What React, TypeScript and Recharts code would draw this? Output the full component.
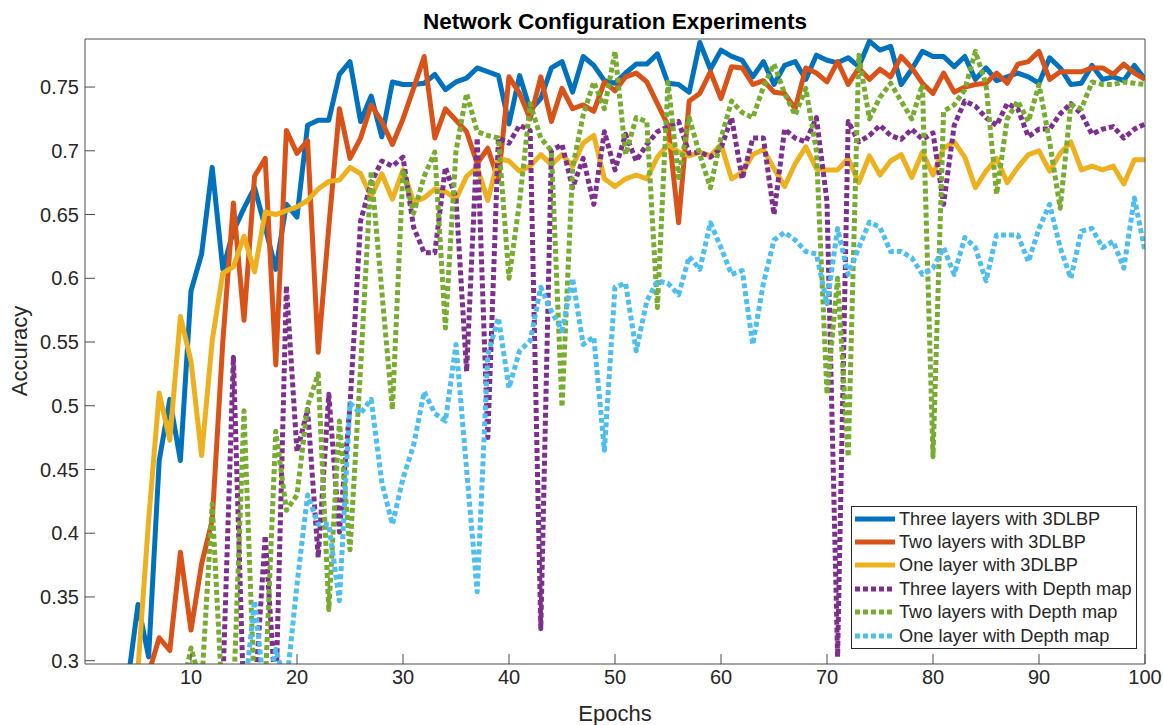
import { LineChart, Line, XAxis, YAxis, Legend } from "recharts";

const FONT = '"Liberation Sans", Arial, Helvetica, sans-serif';
const INK = "#262626";
const AXIS = "#4d4d4d";

// epochs 1..100
const epochs = Array.from({ length: 100 }, (_, i) => i + 1);
const xTicks = [10, 20, 30, 40, 50, 60, 70, 80, 90, 100];
const yTicks = [0.3, 0.35, 0.4, 0.45, 0.5, 0.55, 0.6, 0.65, 0.7, 0.75];

const threeLbp = [
  0.2, 0.22, 0.25, 0.281, 0.344, 0.303, 0.457, 0.505, 0.457, 0.59,
  0.619, 0.687, 0.607, 0.637, 0.655, 0.671, 0.64, 0.607, 0.658, 0.648,
  0.72, 0.724, 0.724, 0.76, 0.77, 0.723, 0.743, 0.711, 0.754, 0.752,
  0.752, 0.753, 0.76, 0.748, 0.754, 0.757, 0.765, 0.762, 0.759, 0.721,
  0.759, 0.732, 0.741, 0.765, 0.77, 0.746, 0.774, 0.767, 0.755, 0.753,
  0.761, 0.768, 0.768, 0.776, 0.753, 0.752, 0.746, 0.785, 0.764, 0.779,
  0.774, 0.771, 0.758, 0.77, 0.752, 0.767, 0.77, 0.756, 0.775, 0.771,
  0.769, 0.773, 0.766, 0.786, 0.779, 0.782, 0.752, 0.764, 0.778, 0.774,
  0.774, 0.766, 0.774, 0.756, 0.765, 0.755, 0.758, 0.761, 0.758, 0.753,
  0.773, 0.765, 0.752, 0.753, 0.767, 0.756, 0.758, 0.755, 0.767, 0.756,
];

const twoLbp = [
  0.19, 0.21, 0.23, 0.25, 0.27, 0.29, 0.318, 0.308, 0.385, 0.324,
  0.376, 0.41, 0.55, 0.659, 0.567, 0.68, 0.694, 0.532, 0.716, 0.698,
  0.708, 0.542, 0.64, 0.733, 0.694, 0.71, 0.736, 0.723, 0.705, 0.725,
  0.749, 0.774, 0.71, 0.733, 0.724, 0.715, 0.69, 0.702, 0.677, 0.758,
  0.745, 0.725, 0.758, 0.723, 0.749, 0.733, 0.736, 0.731, 0.754, 0.747,
  0.758, 0.761, 0.754, 0.737, 0.72, 0.6435, 0.739, 0.745, 0.762, 0.741,
  0.766, 0.765, 0.752, 0.755, 0.746, 0.745, 0.733, 0.765, 0.761, 0.754,
  0.77, 0.752, 0.765, 0.756, 0.764, 0.758, 0.774, 0.765, 0.753, 0.745,
  0.761, 0.746, 0.75, 0.752, 0.753, 0.761, 0.753, 0.768, 0.77, 0.778,
  0.756, 0.762, 0.762, 0.762, 0.765, 0.765, 0.76, 0.768, 0.761, 0.756,
];

const oneLbp = [
  0.17, 0.19, 0.21, 0.24, 0.294, 0.41, 0.51, 0.473, 0.57, 0.535,
  0.461, 0.551, 0.604, 0.609, 0.633, 0.605, 0.652, 0.65, 0.653, 0.656,
  0.661, 0.67, 0.676, 0.677, 0.687, 0.682, 0.664, 0.682, 0.662, 0.685,
  0.66, 0.663, 0.67, 0.668, 0.662, 0.68, 0.687, 0.661, 0.694, 0.692,
  0.684, 0.688, 0.697, 0.689, 0.697, 0.688, 0.706, 0.712, 0.678, 0.672,
  0.678, 0.681, 0.678, 0.695, 0.705, 0.699, 0.696, 0.699, 0.696, 0.705,
  0.678, 0.683, 0.697, 0.701, 0.686, 0.672, 0.69, 0.703, 0.686, 0.685,
  0.685, 0.694, 0.675, 0.696, 0.681, 0.692, 0.697, 0.679, 0.699, 0.681,
  0.702, 0.707, 0.695, 0.671, 0.684, 0.694, 0.675, 0.687, 0.697, 0.7,
  0.684, 0.698, 0.707, 0.685, 0.688, 0.685, 0.688, 0.674, 0.693, 0.693,
];

const threeDepth = [
  0.2, 0.21, 0.22, 0.23, 0.24, 0.24, 0.25, 0.25, 0.26, 0.26,
  0.27, 0.27, 0.28, 0.538, 0.26, 0.27, 0.398, 0.27, 0.594, 0.464,
  0.497, 0.381, 0.509, 0.401, 0.5, 0.645, 0.675, 0.692, 0.688, 0.695,
  0.64, 0.62, 0.62, 0.687, 0.663, 0.527, 0.71, 0.475, 0.71, 0.706,
  0.72, 0.716, 0.325, 0.7, 0.705, 0.671, 0.694, 0.658, 0.715, 0.685,
  0.713, 0.692, 0.705, 0.715, 0.719, 0.723, 0.698, 0.699, 0.695, 0.702,
  0.726, 0.678, 0.71, 0.71, 0.65, 0.717, 0.71, 0.707, 0.726, 0.66,
  0.303, 0.723, 0.707, 0.712, 0.72, 0.712, 0.709, 0.717, 0.709, 0.714,
  0.658, 0.72, 0.739, 0.735, 0.726, 0.72, 0.737, 0.733, 0.711, 0.717,
  0.717, 0.729, 0.737, 0.729, 0.713, 0.717, 0.719, 0.71, 0.717, 0.721,
];

const twoDepth = [
  0.18, 0.19, 0.2, 0.21, 0.22, 0.23, 0.24, 0.26, 0.27, 0.31,
  0.28, 0.423, 0.26, 0.27, 0.496, 0.27, 0.28, 0.48, 0.418, 0.43,
  0.5, 0.525, 0.34, 0.488, 0.387, 0.53, 0.684, 0.59, 0.497, 0.685,
  0.651, 0.68, 0.699, 0.561, 0.7, 0.745, 0.715, 0.712, 0.71, 0.6,
  0.66, 0.737, 0.71, 0.7, 0.499, 0.687, 0.728, 0.754, 0.733, 0.778,
  0.697, 0.726, 0.723, 0.577, 0.754, 0.679, 0.726, 0.697, 0.671, 0.71,
  0.739, 0.73, 0.726, 0.75, 0.768, 0.745, 0.728, 0.749, 0.7, 0.509,
  0.6, 0.46, 0.775, 0.725, 0.742, 0.753, 0.739, 0.725, 0.752, 0.46,
  0.731, 0.736, 0.748, 0.778, 0.752, 0.666, 0.725, 0.739, 0.723, 0.752,
  0.707, 0.655, 0.736, 0.733, 0.754, 0.752, 0.752, 0.754, 0.753, 0.752,
];

const oneDepth = [
  0.15, 0.16, 0.17, 0.18, 0.19, 0.2, 0.21, 0.22, 0.23, 0.24,
  0.25, 0.25, 0.26, 0.26, 0.27, 0.347, 0.27, 0.309, 0.28, 0.36,
  0.43, 0.407, 0.407, 0.347, 0.502, 0.494, 0.505, 0.44, 0.407, 0.443,
  0.469, 0.511, 0.494, 0.488, 0.548, 0.45, 0.354, 0.54, 0.569, 0.514,
  0.543, 0.551, 0.593, 0.574, 0.559, 0.6, 0.548, 0.554, 0.465, 0.593,
  0.596, 0.543, 0.582, 0.598, 0.596, 0.587, 0.617, 0.607, 0.6435, 0.624,
  0.603, 0.606, 0.548, 0.596, 0.63, 0.636, 0.63, 0.621, 0.619, 0.58,
  0.639, 0.603, 0.624, 0.644, 0.64, 0.621, 0.621, 0.616, 0.603, 0.608,
  0.624, 0.603, 0.632, 0.624, 0.598, 0.634, 0.634, 0.634, 0.613, 0.639,
  0.658, 0.624, 0.6, 0.637, 0.639, 0.624, 0.629, 0.608, 0.663, 0.621,
];

const series = [
  { key: "threeLbp", name: "Three layers with 3DLBP", color: "#0072BD", values: threeLbp },
  { key: "twoLbp", name: "Two layers with 3DLBP", color: "#D95319", values: twoLbp },
  { key: "oneLbp", name: "One layer with 3DLBP", color: "#EDB120", values: oneLbp },
  { key: "threeDepth", name: "Three layers with Depth map", color: "#7E2F8E", values: threeDepth, dash: "5 3" },
  { key: "twoDepth", name: "Two layers with Depth map", color: "#77AC30", values: twoDepth, dash: "5 3" },
  { key: "oneDepth", name: "One layer with Depth map", color: "#4DBEEE", values: oneDepth, dash: "5 3" },
];

const rows = epochs.map((epoch, i) => {
  const row: Record<string, number> = { epoch };
  series.forEach(s => (row[s.key] = s.values[i]));
  return row;
});

const fmt = (v: number) => String(+v.toFixed(2));

function LegendBox() {
  return (
    <div style={{ border: `1px solid ${INK}`, background: "#fff", width: 284, height: 141 }}>
      {series.map(s => (
        <div key={s.key} style={{ display: "flex", alignItems: "center", height: 23.4 }}>
          <svg width={44} height={10} style={{ marginLeft: 3, flex: "none" }}>
            <line x1={0} y1={5} x2={40} y2={5} stroke={s.color} strokeWidth={5} strokeDasharray={s.dash} />
          </svg>
          <span style={{ fontSize: 18.2, color: INK, whiteSpace: "nowrap", lineHeight: "20px" }}>{s.name}</span>
        </div>
      ))}
    </div>
  );
}

export default function App() {
  const tick = { fontSize: 20, fill: INK, fontFamily: FONT };
  return (
    <div style={{ position: "absolute", left: 0, top: 0, width: 1163, height: 725, background: "#fff", fontFamily: FONT }}>
      <div style={{ position: "absolute", left: 85, top: 11, width: 1060, textAlign: "center", fontSize: 22.5, lineHeight: "22px", fontWeight: "bold", color: "#000" }}>
        Network Configuration Experiments
      </div>
      <LineChart width={1163} height={725} data={rows} margin={{ top: 38, right: 17, bottom: 21, left: 0 }}>
        <XAxis
          dataKey="epoch" type="number" domain={[0, 100]} ticks={xTicks} interval={0} allowDataOverflow
          height={40} tickSize={-10} tickMargin={16} tick={tick}
          axisLine={{ stroke: AXIS }} tickLine={{ stroke: AXIS }}
        />
        <XAxis
          xAxisId="top" orientation="top" type="number" domain={[0, 100]} ticks={xTicks} interval={0} allowDataOverflow
          height={1} tickSize={-10} tick={false} axisLine={{ stroke: AXIS }} tickLine={{ stroke: AXIS }}
        />
        <YAxis
          type="number" domain={[0.2974, 0.7877]} ticks={yTicks} interval={0} allowDataOverflow
          width={85} tickSize={-10} tickMargin={16} tick={tick} tickFormatter={fmt}
          axisLine={{ stroke: AXIS }} tickLine={{ stroke: AXIS }}
        />
        <YAxis
          yAxisId="right" orientation="right" type="number" domain={[0.2974, 0.7877]} ticks={yTicks} interval={0} allowDataOverflow
          width={1} tickSize={-10} tick={false} axisLine={{ stroke: AXIS }} tickLine={{ stroke: AXIS }}
        />
        {series.map(s => (
          <Line
            key={s.key} dataKey={s.key} name={s.name} type="linear" stroke={s.color}
            strokeWidth={5} strokeDasharray={s.dash} strokeLinejoin="round"
            dot={false} activeDot={false} isAnimationActive={false}
          />
        ))}
        <Legend
          content={LegendBox} layout="vertical" align="center" verticalAlign="middle"
          wrapperStyle={{ left: 851, top: 506, width: 286, height: 143 }}
        />
      </LineChart>
      <div style={{ position: "absolute", left: 85, top: 703, width: 1060, textAlign: "center", fontSize: 22, lineHeight: "22px", color: INK }}>
        Epochs
      </div>
      <div style={{ position: "absolute", left: -80, top: 340, width: 200, height: 22, textAlign: "center", fontSize: 22, lineHeight: "22px", color: INK, transform: "rotate(-90deg)" }}>
        Accuracy
      </div>
    </div>
  );
}
